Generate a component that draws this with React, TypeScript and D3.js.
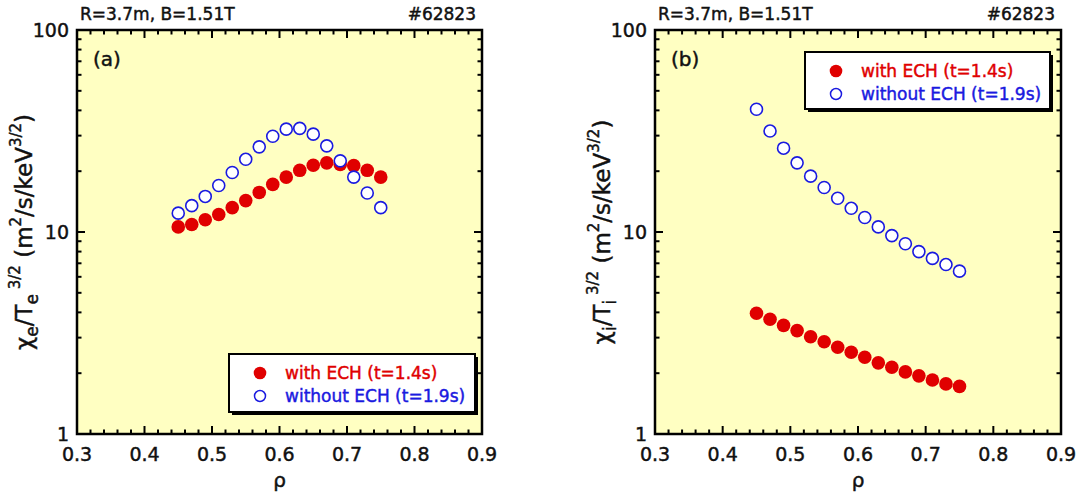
import React from "react";
import * as d3 from "d3";

// ---- data ----
const rho = [0.45, 0.47, 0.49, 0.51, 0.53, 0.55, 0.57, 0.59, 0.61, 0.63, 0.65, 0.67, 0.69, 0.71, 0.73, 0.75];
const chiEWithECH = [10.6, 10.9, 11.5, 12.2, 13.2, 14.3, 15.7, 17.2, 18.7, 20.2, 21.4, 22.0, 21.6, 21.3, 20.2, 18.7];
const chiEWithoutECH = [12.4, 13.5, 15.0, 17.0, 19.7, 22.9, 26.4, 29.8, 32.3, 32.6, 30.5, 26.7, 22.5, 18.7, 15.6, 13.2];
const chiIWithECH = [3.96, 3.7, 3.45, 3.25, 3.03, 2.86, 2.69, 2.54, 2.4, 2.25, 2.14, 2.03, 1.94, 1.85, 1.77, 1.72];
const chiIWithoutECH = [40.5, 31.6, 26.0, 22.0, 18.9, 16.6, 14.7, 13.1, 11.8, 10.6, 9.6, 8.75, 8.0, 7.4, 6.9, 6.4];

const xTicks = [0.3, 0.4, 0.5, 0.6, 0.7, 0.8, 0.9];
const yTicks = [1, 10, 100];
const seriesLabels = ["with ECH (t=1.4s)", "without ECH (t=1.9s)"];
const titleLeft = "R=3.7m, B=1.51T";
const titleRight = "#62823";

const RED = "#e00000";
const BLUE = "#1a1ae0";
const BG = "#ffffc2";
const FONT = "'DejaVu Sans', Verdana, sans-serif";

type PanelProps = {
  left: number;
  right: number;
  tag: string;
  sub: string;
  withECH: number[];
  withoutECH: number[];
  legend: { x: number; y: number; w: number; h: number };
};

const TOP = 30;
const BOTTOM = 434;

const heavy = (c: string) => ({ stroke: c, strokeWidth: 0.45, fill: c });

function Panel({ left, right, tag, sub, withECH, withoutECH, legend }: PanelProps) {
  const x = d3.scaleLinear().domain([0.3, 0.9]).range([left, right]);
  const y = d3.scaleLog().domain([1, 100]).range([BOTTOM, TOP]);
  const minorX = d3.range(0.3, 0.9001, 0.02).map((v) => +v.toFixed(2));
  const minorY: number[] = [];
  [1, 10].forEach((d) => {
    for (let k = 2; k <= 9; k++) minorY.push(d * k);
  });
  const MAJ = 8;
  const MIN = 4.5;
  const tickStroke = 2;
  const w = right - left;
  return (
    <g>
      <rect x={left} y={TOP} width={w} height={BOTTOM - TOP} fill={BG} />
      {/* x ticks */}
      {minorX.map((v, i) => {
        const major = xTicks.some((t) => Math.abs(t - v) < 1e-6);
        const len = major ? MAJ : MIN;
        return (
          <g key={"xt" + i}>
            <line x1={x(v)} x2={x(v)} y1={BOTTOM} y2={BOTTOM - len} stroke="#000" strokeWidth={tickStroke} />
            <line x1={x(v)} x2={x(v)} y1={TOP} y2={TOP + len} stroke="#000" strokeWidth={tickStroke} />
          </g>
        );
      })}
      {/* y ticks */}
      {yTicks.concat(minorY).map((v, i) => {
        const major = yTicks.includes(v);
        const len = major ? MAJ : MIN;
        return (
          <g key={"yt" + i}>
            <line x1={left} x2={left + len} y1={y(v)} y2={y(v)} stroke="#000" strokeWidth={tickStroke} />
            <line x1={right} x2={right - len} y1={y(v)} y2={y(v)} stroke="#000" strokeWidth={tickStroke} />
          </g>
        );
      })}
      <rect x={left} y={TOP} width={w} height={BOTTOM - TOP} fill="none" stroke="#000" strokeWidth={2.5} />
      {/* tick labels */}
      {xTicks.map((v) => (
        <text key={"xl" + v} x={x(v)} y={461} textAnchor="middle" fontSize={19} fontFamily={FONT} {...heavy("#111")}>
          {v.toFixed(1)}
        </text>
      ))}
      {yTicks.map((v) => (
        <text key={"yl" + v} x={left - 8} y={y(v) + 7} textAnchor="end" fontSize={19} fontFamily={FONT} {...heavy("#111")}>
          {v}
        </text>
      ))}
      {/* titles */}
      <text x={left + 3} y={20} fontSize={17} fontFamily={FONT} {...heavy("#111")}>{titleLeft}</text>
      <text x={right - 6} y={20} textAnchor="end" fontSize={17} fontFamily={FONT} {...heavy("#111")}>{titleRight}</text>
      <text x={left + 16} y={66} fontSize={20} fontFamily={FONT} {...heavy("#111")}>{tag}</text>
      {/* axis labels */}
      <text x={(left + right) / 2} y={487} textAnchor="middle" fontSize={20} fontFamily={FONT} {...heavy("#111")}>ρ</text>
      <text
        transform={`translate(${left - 45},${(TOP + BOTTOM) / 2}) rotate(-90)`}
        textAnchor="middle"
        fontSize={23}
        fontFamily={FONT}
        {...heavy("#111")}
      >
        <tspan>χ</tspan>
        <tspan fontSize={17} dy={6}>{sub}</tspan>
        <tspan dy={-6}>/T</tspan>
        <tspan fontSize={17} dy={6}>{sub}</tspan>
        <tspan fontSize={15} dy={-18}>{" 3/2"}</tspan>
        <tspan dy={12}>{" (m"}</tspan>
        <tspan fontSize={15} dy={-11}>2</tspan>
        <tspan dy={11}>/s/keV</tspan>
        <tspan fontSize={15} dy={-11}>3/2</tspan>
        <tspan dy={11}>)</tspan>
      </text>
      {/* data */}
      {rho.map((r, i) => (
        <circle key={"r" + i} cx={x(r)} cy={y(withECH[i])} r={6.8} fill={RED} />
      ))}
      {rho.map((r, i) => (
        <circle key={"b" + i} cx={x(r)} cy={y(withoutECH[i])} r={6} fill="#fff" stroke={BLUE} strokeWidth={1.6} />
      ))}
      {/* legend */}
      <rect x={legend.x + 3} y={legend.y + 3} width={legend.w} height={legend.h} fill="#000" />
      <rect x={legend.x} y={legend.y} width={legend.w} height={legend.h} fill="#fff" stroke="#000" strokeWidth={2} />
      <circle cx={legend.x + 31} cy={legend.y + 19} r={6.3} fill={RED} />
      <text x={legend.x + 56} y={legend.y + 25} fontSize={17} fontFamily={FONT} {...heavy(RED)}>{seriesLabels[0]}</text>
      <circle cx={legend.x + 31} cy={legend.y + 42} r={5.5} fill="#fff" stroke={BLUE} strokeWidth={1.5} />
      <text x={legend.x + 56} y={legend.y + 48} fontSize={17} fontFamily={FONT} {...heavy(BLUE)}>{seriesLabels[1]}</text>
    </g>
  );
}

export default function App() {
  return (
    <svg width={1080} height={492} style={{ position: "absolute", left: 0, top: 0, background: "#fff" }}>
      <rect width={1080} height={492} fill="#fff" />
      <Panel
        left={77}
        right={482}
        tag="(a)"
        sub="e"
        withECH={chiEWithECH}
        withoutECH={chiEWithoutECH}
        legend={{ x: 229, y: 354, w: 246, h: 58 }}
      />
      <Panel
        left={655}
        right={1061}
        tag="(b)"
        sub="i"
        withECH={chiIWithECH}
        withoutECH={chiIWithoutECH}
        legend={{ x: 805, y: 52, w: 245, h: 57 }}
      />
    </svg>
  );
}
